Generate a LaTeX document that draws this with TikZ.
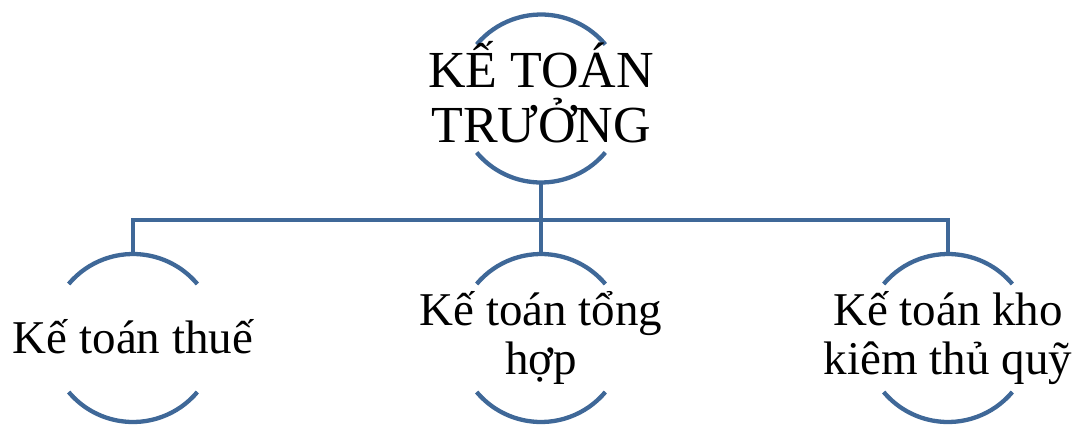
\documentclass[tikz,border=0pt]{standalone}
\usepackage{fontspec}
\setmainfont{Liberation Serif}
\definecolor{linkblue}{RGB}{63,104,152}
\begin{document}
\begin{tikzpicture}[x=1pt,y=-1pt,
  arcline/.style={draw=linkblue,line width=4.3pt},
  conn/.style={draw=linkblue,line width=4.3pt},
  toptext/.style={align=center,inner sep=0pt,font=\fontsize{52}{55}\selectfont},
  childtext/.style={align=center,inner sep=0pt,font=\fontsize{47}{49}\selectfont}]
\useasboundingbox (0,0) rectangle (1077,424);
% circle centres
\coordinate (c0) at (541,98.5);
\coordinate (c1) at (133,338);
\coordinate (c2) at (541,338);
\coordinate (c3) at (948,338);
% arcs (partial circles); y axis points down, so 220..320 is the upper arc
\foreach \c in {c0,c1,c2,c3}{
  \draw[arcline] (\c) ++(220:84) arc[start angle=220,end angle=320,radius=84];
  \draw[arcline] (\c) ++(40:84) arc[start angle=40,end angle=140,radius=84];
}
% nodes
\node[toptext] (top) at (541,92) {KẾ TOÁN\\TRƯỞNG};
\node[childtext] (n1) at (133,337) {Kế toán thuế};
\node[childtext] (n2) at (541,338) {Kế toán tổng\\hợp};
\node[childtext] (n3) at (948,338) {Kế toán kho\\kiêm thủ quỹ};
% connector points
\coordinate (t0) at (541,182.5);
\coordinate (b1) at (133,254);
\coordinate (b2) at (541,254);
\coordinate (b3) at (948,254);
\coordinate (h2) at (541,220);
\draw[conn] (t0) -- (b2);
\draw[conn,line join=miter] (b1) |- (h2) -| (b3);
\end{tikzpicture}
\end{document}
